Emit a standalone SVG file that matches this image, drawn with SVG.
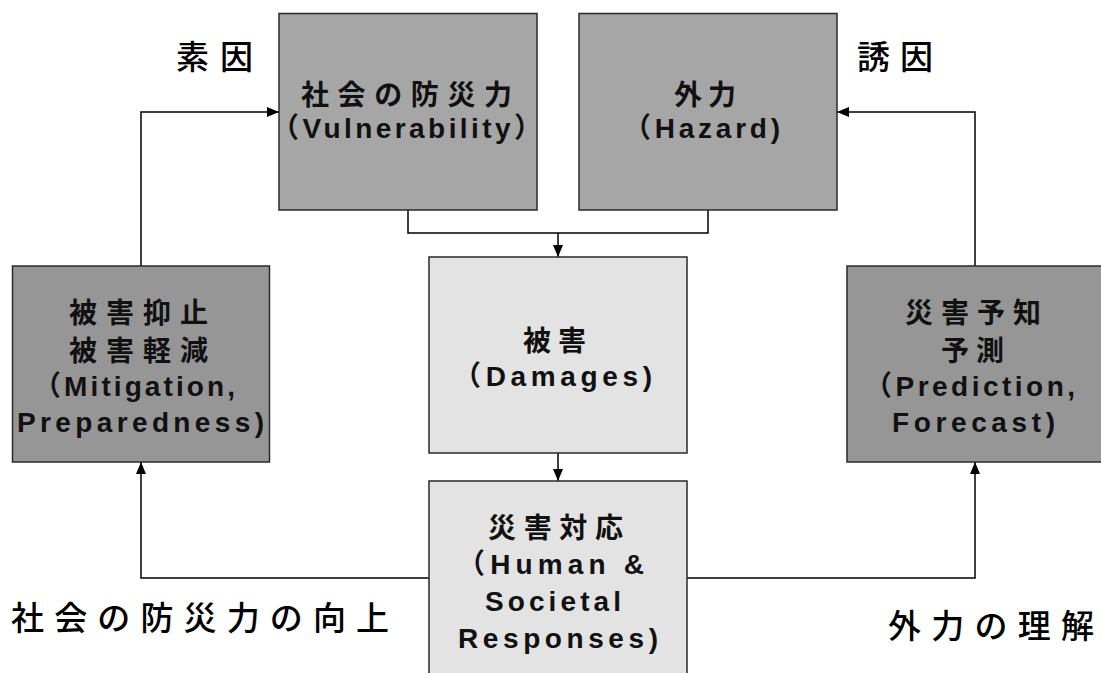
<svg xmlns="http://www.w3.org/2000/svg" width="1101" height="673" viewBox="0 0 1101 673">
<style>
.box{stroke:#2a2a2a;stroke-width:1.5}
.top{fill:#a6a6a6}
.side{fill:#969696}
.mid{fill:#e3e3e3}
.t{font-family:"Liberation Sans","Noto Sans CJK JP",sans-serif;font-weight:bold;font-size:28px;fill:#111;text-anchor:middle}
.lbl{font-family:"Noto Sans CJK JP",sans-serif;font-weight:500;font-size:33px;fill:#000}
.c{fill:none;stroke:#000;stroke-width:1.5}
</style>
<defs>
<marker id="ah" viewBox="0 0 12 10" refX="12" refY="5" markerWidth="12" markerHeight="10" markerUnits="userSpaceOnUse" orient="auto">
<path d="M0,0 L12,5 L0,10 z" fill="#000"/>
</marker>
</defs>
<rect width="1101" height="673" fill="#fff"/>
<g id="connectors">
<path class="c" d="M408,210 V233 H708 V210"/>
<path class="c" d="M558,233 V257" marker-end="url(#ah)"/>
<path class="c" d="M558,453 V481" marker-end="url(#ah)"/>
<path class="c" d="M429,578 H141 V462" marker-end="url(#ah)"/>
<path class="c" d="M687,578 H975 V462" marker-end="url(#ah)"/>
<path class="c" d="M141,266 V112 H279" marker-end="url(#ah)"/>
<path class="c" d="M975,266 V112 H837" marker-end="url(#ah)"/>
</g>
<g id="vulnerability">
<rect class="box top" x="279" y="13.5" width="258" height="196.5"/>
<text class="t" x="406.5" y="105" textLength="211">社会の防災力</text>
<text class="t" x="406.5" y="138" textLength="271">（Vulnerability）</text>
</g>
<g id="hazard">
<rect class="box top" x="579" y="13.5" width="258" height="196.5"/>
<text class="t" x="705" y="105" textLength="62">外力</text>
<text class="t" x="701.5" y="138" textLength="157">（Hazard)</text>
</g>
<g id="damages">
<rect class="box mid" x="429" y="257" width="258" height="196"/>
<text class="t" x="554.5" y="351" textLength="63">被害</text>
<text class="t" x="552.5" y="386" textLength="199">（Damages)</text>
</g>
<g id="mitigation">
<rect class="box side" x="12.5" y="266" width="257" height="196"/>
<text class="t" x="138.5" y="323" textLength="139">被害抑止</text>
<text class="t" x="138.5" y="361" textLength="139">被害軽減</text>
<text class="t" x="134" y="396" textLength="202">（Mitigation,</text>
<text class="t" x="140.5" y="432" textLength="247">Preparedness)</text>
</g>
<g id="prediction">
<rect class="box side" x="847" y="266" width="258" height="196"/>
<text class="t" x="973" y="323" textLength="136">災害予知</text>
<text class="t" x="972.5" y="361" textLength="63">予測</text>
<text class="t" x="969.5" y="396" textLength="211">（Prediction,</text>
<text class="t" x="973.5" y="432" textLength="163">Forecast)</text>
</g>
<g id="responses">
<rect class="box mid" x="429" y="481" width="258" height="200"/>
<text class="t" x="555.5" y="538" textLength="135">災害対応</text>
<text class="t" x="550.5" y="574" textLength="187">（Human &amp;</text>
<text class="t" x="553" y="611" textLength="136">Societal</text>
<text class="t" x="558" y="648" textLength="200">Responses)</text>
</g>
<g id="labels">
<text class="lbl" x="176" y="69" textLength="77">素因</text>
<text class="lbl" x="857" y="69" textLength="76">誘因</text>
<text class="lbl" x="11" y="630" textLength="378">社会の防災力の向上</text>
<text class="lbl" x="888" y="638" textLength="206">外力の理解</text>
</g>
</svg>
